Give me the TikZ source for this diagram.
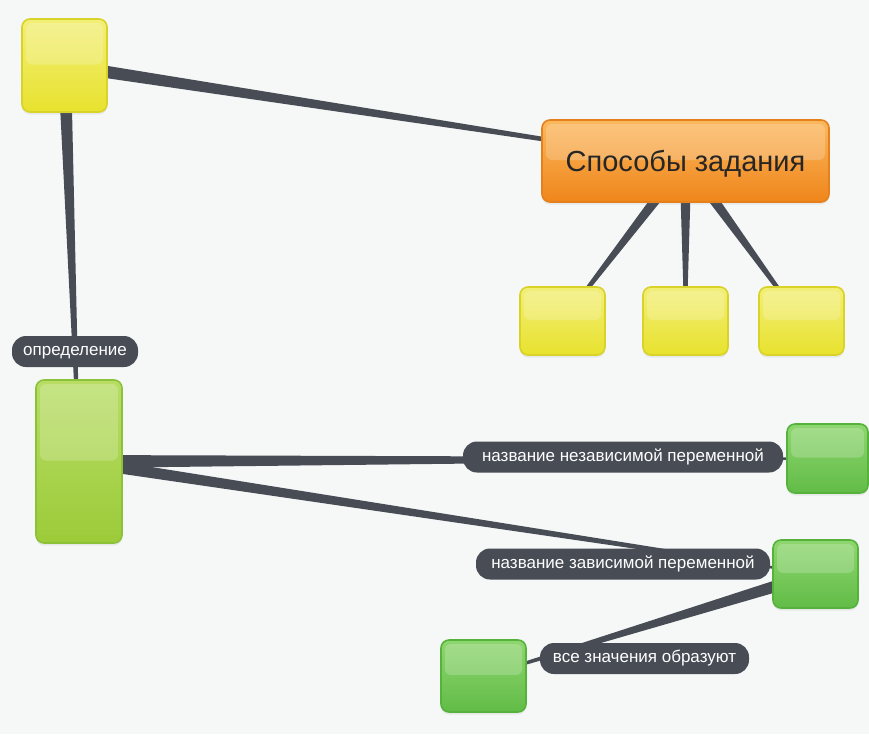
\documentclass[tikz,border=0pt]{standalone}
\usepackage{fontspec}
\setmainfont{Liberation Sans}
\usetikzlibrary{calc,shadows}
\pgfdeclarelayer{bgl}
\pgfdeclarelayer{cl}
\pgfsetlayers{bgl,cl,main}
\definecolor{conn}{HTML}{474C55}
\definecolor{bgc}{HTML}{F6F7F7}
\definecolor{yelT}{HTML}{F2EF78}
\definecolor{yelB}{HTML}{E8E22E}
\definecolor{yelD}{HTML}{D9D229}
\definecolor{orT}{HTML}{FBB85E}
\definecolor{orB}{HTML}{EF861B}
\definecolor{orD}{HTML}{E5811C}
\definecolor{lgT}{HTML}{B8DD66}
\definecolor{lgB}{HTML}{9CCB39}
\definecolor{lgD}{HTML}{8CC23A}
\definecolor{gT}{HTML}{8ED66F}
\definecolor{gB}{HTML}{62BC47}
\definecolor{gD}{HTML}{55B33B}
\newcommand{\taper}[4]{%
  \fill[conn] ($(#1.center)!#3!90:(#2.center)$) -- ($(#2.center)!#4!-90:(#1.center)$)
    -- ($(#2.center)!#4!90:(#1.center)$) -- ($(#1.center)!#3!-90:(#2.center)$) -- cycle;}
\tikzset{
  box/.style={rounded corners=8pt, inner sep=0pt, line width=1.6pt,
    drop shadow={opacity=0.12, shadow xshift=0pt, shadow yshift=-2.5pt},
    path picture={\fill[white,opacity=0.2,rounded corners=6pt]
      ($(path picture bounding box.north west)+(4pt,-4pt)$) rectangle
      ($(path picture bounding box.east)+(-4pt,1pt)$);}},
  ybox/.style={box, draw=yelD, top color=yelT, bottom color=yelB},
  obox/.style={box, draw=orD, top color=orT, bottom color=orB},
  lgbox/.style={box, draw=lgD, top color=lgT, bottom color=lgB},
  gbox/.style={box, draw=gD, top color=gT, bottom color=gB},
  lab/.style={fill=conn, text=white, rounded corners=14pt, inner xsep=6pt,
    minimum height=31pt, text height=11pt, text depth=3pt,
    font=\fontsize{17}{19}\selectfont},
}
\begin{document}
\begin{tikzpicture}[x=1pt,y=-1pt]
\begin{pgfonlayer}{bgl}
\fill[bgc] (0,0) rectangle (869,734);
\end{pgfonlayer}
\useasboundingbox (0,0) rectangle (869,734);
% nodes
\node[ybox, minimum width=85pt, minimum height=93pt] (y1) at (64.5,65.5) {};
\node[obox, minimum width=287pt, minimum height=82pt,
  font=\fontsize{29}{32}\selectfont, text=black!85, text height=21pt, text depth=0pt] (o) at (685.5,161) {Способы задания};
\node[ybox, minimum width=85pt, minimum height=68pt] (y2) at (562.5,321) {};
\node[ybox, minimum width=85pt, minimum height=68pt] (y3) at (685.5,321) {};
\node[ybox, minimum width=85pt, minimum height=68pt] (y4) at (801.5,321) {};
\node[lgbox, minimum width=86pt, minimum height=163pt] (g0) at (79,461.5) {};
\node[gbox, minimum width=81pt, minimum height=69pt] (g1) at (827.5,458.5) {};
\node[gbox, minimum width=85pt, minimum height=68pt] (g2) at (815.5,574) {};
\node[gbox, minimum width=85pt, minimum height=72pt] (g3) at (483.5,676) {};
% labels
\node[lab, minimum width=126pt] (l0) at (75,351.5) {определение};
\node[lab, minimum width=320pt] (l1) at (623,457) {название независимой переменной};
\node[lab, minimum width=294pt] (l2) at (623,564) {название зависимой переменной};
\node[lab, minimum width=209pt] (l3) at (644.5,658.5) {все значения образуют};
% connectors
\begin{pgfonlayer}{cl}
\taper{y1}{o}{6.5pt}{1pt}
\taper{y1}{g0}{6.5pt}{1pt}
\taper{o}{y2}{6pt}{1.2pt}
\taper{o}{y3}{6pt}{1.2pt}
\taper{o}{y4}{6pt}{1.2pt}
\taper{g0}{g1}{6.5pt}{1pt}
\taper{g0}{g2}{6pt}{1pt}
\taper{g2}{g3}{6.5pt}{1pt}
\end{pgfonlayer}
\end{tikzpicture}
\end{document}
